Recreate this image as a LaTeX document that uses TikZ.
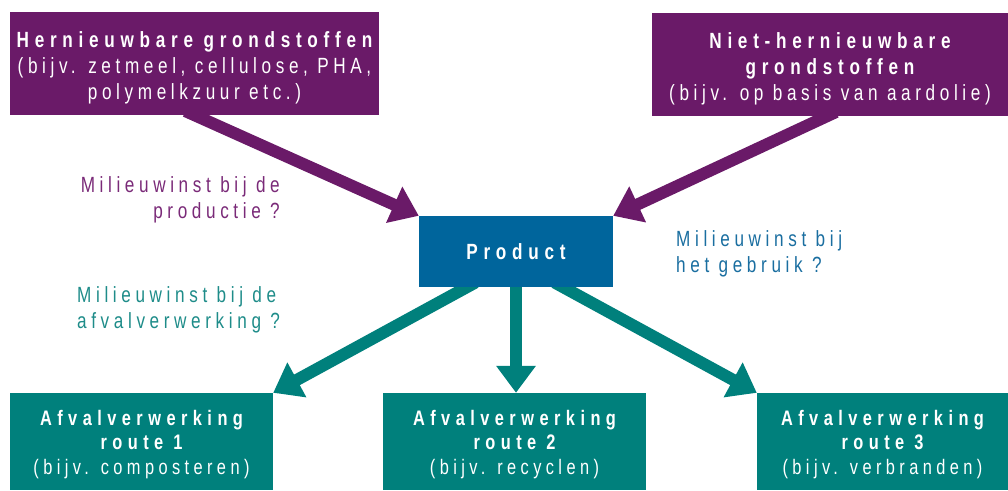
\documentclass[tikz,border=0pt]{standalone}
\usepackage{fontspec}
\setmainfont{Liberation Sans}
\newfontfamily\lab[FakeStretch=0.78,LetterSpace=21,BoldFeatures={LetterSpace=26}]{Liberation Sans}
\newfontfamily\labw[FakeStretch=0.78,LetterSpace=21]{Liberation Sans}
\usetikzlibrary{arrows.meta}
\definecolor{purp}{HTML}{6A1A68}
\definecolor{pblue}{HTML}{00659C}
\definecolor{pteal}{HTML}{00807C}
\definecolor{lpurp}{HTML}{7A2A78}
\definecolor{lteal}{HTML}{1E8C89}
\definecolor{lblue}{HTML}{1A6EA0}
\pgfdeclarelayer{bg}
\pgfsetlayers{bg,main}
\tikzset{
  box/.style={inner sep=0pt},
  pbox/.style={box, fill=purp},
  tbox/.style={box, fill=pteal},
  bbox/.style={box, fill=pblue},
  btext/.style={text=white, align=center, inner sep=0pt, font=\lab\fontsize{22}{26}\selectfont},
  ttext/.style={btext, font=\lab\fontsize{21}{24.5}\selectfont},
  lbl/.style={inner sep=0pt, font=\labw\fontsize{22}{26}\selectfont},
  parrow/.style={draw=purp, line width=12pt, -{Triangle[length=27pt,width=38pt]}, purp, shorten <=-10pt},
  tarrow/.style={draw=pteal, line width=12pt, -{Triangle[length=27pt,width=38pt]}, pteal, shorten <=-10pt}
}
\begin{document}
\begin{tikzpicture}[x=1pt,y=-1pt]
\useasboundingbox (0,0) rectangle (1008,490);
\node[pbox, minimum width=369pt, minimum height=103pt] (hl) at (194.5,63.5) {};
\node[btext] (hlt) at ([yshift=-4pt]hl.center)
  {{\bfseries Hernieuwbare grondstoffen}\\(bijv. zetmeel, cellulose, PHA,\\polymelkzuur etc.)};
\node[pbox, minimum width=356pt, minimum height=103pt] (hr) at (830,64.5) {};
\node[btext] (hrt) at ([yshift=-4pt]hr.center)
  {{\bfseries Niet-hernieuwbare}\\{\bfseries grondstoffen}\\(bijv. op basis van aardolie)};
\node[bbox, minimum width=194pt, minimum height=71pt] (prod) at (516,251.5) {};
\node[btext] (prodt) at (prod.center) {\bfseries Product};
\node[tbox, minimum width=263pt, minimum height=97pt] (r1) at (141.5,441.5) {};
\node[ttext] (r1t) at ([yshift=-3pt]r1.center)
  {{\bfseries Afvalverwerking}\\{\bfseries route 1}\\(bijv. composteren)};
\node[tbox, minimum width=263pt, minimum height=97pt] (r2) at (514.5,441.5) {};
\node[ttext] (r2t) at ([yshift=-3pt]r2.center)
  {{\bfseries Afvalverwerking}\\{\bfseries route 2}\\(bijv. recyclen)};
\node[tbox, minimum width=251pt, minimum height=97pt] (r3) at (882.5,441.5) {};
\node[ttext] (r3t) at ([yshift=-3pt]r3.center)
  {{\bfseries Afvalverwerking}\\{\bfseries route 3}\\(bijv. verbranden)};
\node[lbl, text=lpurp, anchor=east, align=right] (l1) at (280,200)
  {Milieuwinst bij de\\productie ?};
\node[lbl, text=lteal, anchor=west, align=left] (l2) at (77,310)
  {Milieuwinst bij de\\afvalverwerking ?};
\node[lbl, text=lblue, anchor=west, align=left] (l3) at (676,253.5)
  {Milieuwinst bij\\het gebruik ?};
\begin{pgfonlayer}{bg}
\draw[parrow] (hl.south) -- (prod.north west);
\draw[parrow] ([xshift=-3pt]hr.south) -- (prod.north east);
\draw[tarrow] ([xshift=48pt]prod.south west) -- (r1.north east);
\draw[tarrow] (prod.south) -- (prod.south |- r2.north);
\draw[tarrow] ([xshift=-50pt]prod.south east) -- (r3.north west);
\end{pgfonlayer}
\end{tikzpicture}
\end{document}
